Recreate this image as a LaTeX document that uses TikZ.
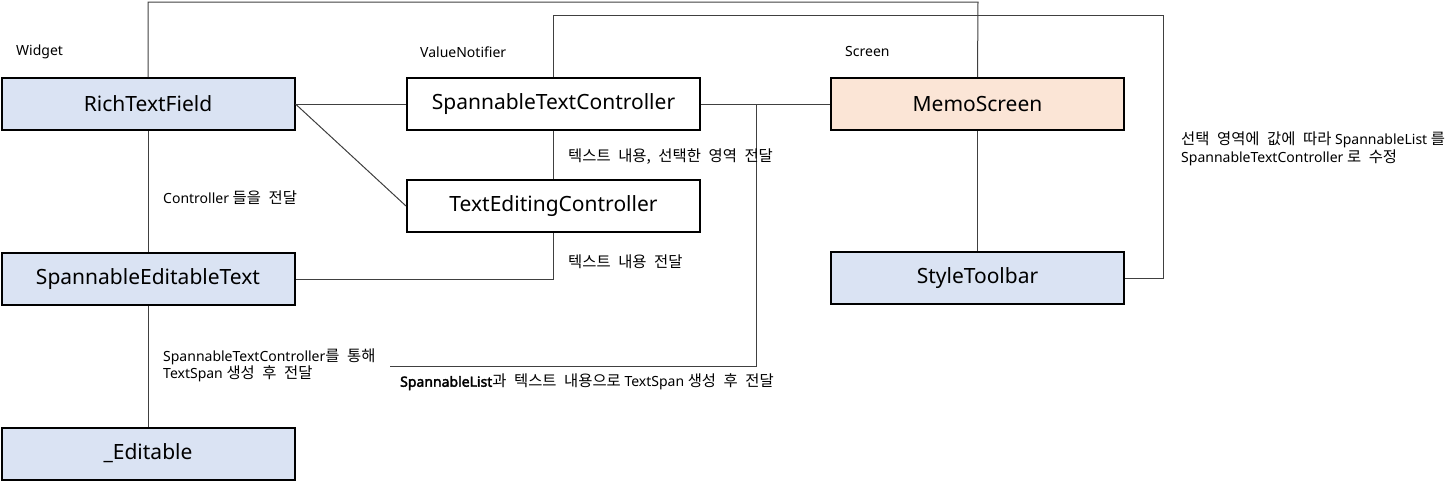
\documentclass[tikz,border=0pt]{standalone}
\usepackage{fontspec}
\setmainfont{Noto Sans}
\newfontfamily\fbold{Noto Sans}[FakeBold=2.5]
\newfontfamily\kr{Noto Sans CJK KR}[Scale=1.1,WordSpace=2.2]
\definecolor{bluefill}{HTML}{DAE3F3}
\definecolor{orangefill}{HTML}{FBE5D6}
\definecolor{linec}{HTML}{404040}
\begin{document}
\begin{tikzpicture}[x=1pt,y=-1pt,
  box/.style={draw=black,line width=2pt,minimum width=293pt,minimum height=52pt,inner sep=0pt,
    font=\fontsize{21}{25}\selectfont},
  bluebox/.style={box,fill=bluefill},
  lbl/.style={anchor=west,inner sep=0pt,font=\fontsize{14}{17.5}\selectfont,align=left},
  conn/.style={draw=linec,line width=1pt}]
\useasboundingbox (0,0) rectangle (1452,482);
% boxes
\node[bluebox] (rtf) at (148,104) {RichTextField};
\node[box,fill=white] (stc) at (553.5,104) {SpannableTextController};
\node[box,fill=orangefill] (memo) at (977.5,104) {MemoScreen};
\node[box,fill=white] (tec) at (553.5,206) {TextEditingController};
\node[bluebox] (set) at (148,279) {SpannableEditableText};
\node[bluebox] (tb) at (977.5,278) {StyleToolbar};
\node[bluebox] (ed) at (148,453.5) {\_Editable};
% group labels
\node[lbl] (lw) at (16,52) {Widget};
\node[lbl] (lv) at (420,52) {ValueNotifier};
\node[lbl] (ls) at (845,52) {Screen};
% connectors
\draw[conn] (rtf.north) |- (978,2) -- (memo.north);
\draw[conn] (stc.north) |- (1163,15) |- (tb.east);
\draw[conn] (rtf.east) -- (stc.west);
\draw[conn] (rtf.east) -- (tec.west);
\draw[conn] (stc.east) -- (memo.west);
\draw[conn] (stc.south) -- (tec.north);
\coordinate (j) at (756,104);
\coordinate (le) at (390,366);
\draw[conn] (j) |- (le);
\draw[conn] (tec.south) |- (set.east);
\draw[conn] (rtf.south) -- (set.north);
\draw[conn] (set.south) -- (ed.north);
\draw[conn] (memo.south) -- (tb.north);
% edge labels
\node[lbl] (l1) at (568,157) {{\kr 텍스트 내용, 선택한 영역 전달}};
\node[lbl] (l2) at (163,198) {Controller {\kr 들을 전달}};
\node[lbl] (l3) at (568,262) {{\kr 텍스트 내용 전달}};
\node[lbl] (l4) at (163,365.5) {SpannableTextController{\kr 를 통해}\\TextSpan {\kr 생성 후 전달}};
\node[lbl] (l5) at (400,382) {{\fbold SpannableList}{\kr 과 텍스트 내용으로} TextSpan {\kr 생성 후 전달}};
\node[lbl] (l6) at (1181,149) {{\kr 선택 영역에 값에 따라} SpannableList {\kr 를}\\SpannableTextController {\kr 로 수정}};
\end{tikzpicture}
\end{document}
